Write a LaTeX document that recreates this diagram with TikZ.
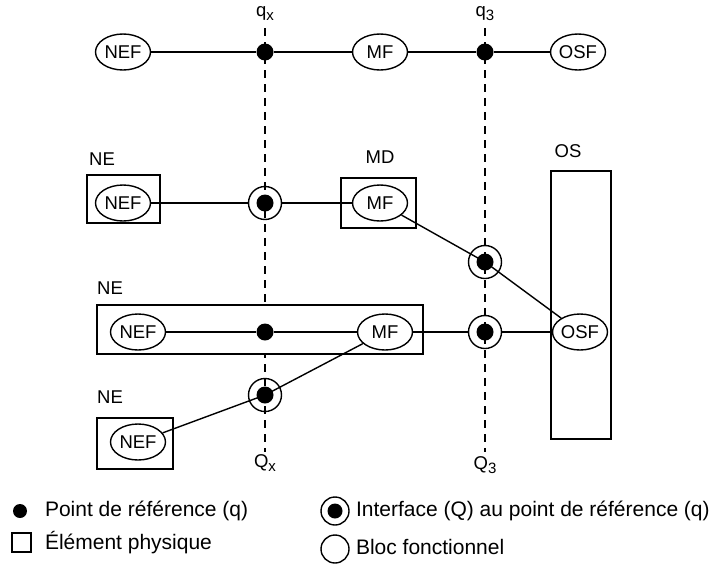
\documentclass[tikz,border=0pt]{standalone}
\usepackage{fontspec}
\setmainfont{Liberation Sans}
\usetikzlibrary{shapes.geometric}
\newcommand{\mysub}[1]{\raisebox{-4pt}{\fontsize{15}{15}\selectfont #1}}
\begin{document}
\begin{tikzpicture}[x=1pt,y=-1pt,line width=1.4pt,
  fblock/.style={draw,ellipse,fill=white,minimum width=55pt,minimum height=36pt,inner sep=0pt,font=\fontsize{18.5}{18.5}\selectfont},
  physbox/.style={draw,fill=white},
  refdot/.style={fill=black,circle,inner sep=0pt,minimum size=17pt},
  ifring/.style={draw,circle,inner sep=0pt,minimum size=33pt},
  lbl/.style={font=\fontsize{18.5}{18.5}\selectfont},
  leg/.style={font=\fontsize{21}{21}\selectfont,anchor=west},
  refline/.style={dash pattern=on 8pt off 6pt,line width=1.3pt}]
\useasboundingbox (0,0) rectangle (717,565);

% reference lines
\node[lbl] (qx) at (265,14) {q\mysub{x}};
\node[lbl] (q3) at (485,14) {q\mysub{3}};
\node[lbl] (Qx) at (265,463) {Q\mysub{x}};
\node[lbl] (Q3) at (485,465) {Q\mysub{3}};
\coordinate (qxtop) at (265,28);
\coordinate (qxbot) at (265,452);
\coordinate (q3top) at (485,28);
\coordinate (q3bot) at (485,452);
\draw[refline] (qxtop) -- (qxbot);
\draw[refline] (q3top) -- (q3bot);

% physical boxes
\draw[physbox] (87,175) rectangle (160,223);
\node[lbl] (ne1) at (102,159) {NE};
\draw[physbox] (341,178) rectangle (416,228);
\node[lbl] (md) at (380,157) {MD};
\draw[physbox] (97,305) rectangle (423,354);
\node[lbl] (ne2) at (110,288) {NE};
\draw[physbox] (97,418) rectangle (173,469);
\node[lbl] (ne3) at (110,397) {NE};
\draw[physbox] (551,171) rectangle (611,439);
\node[lbl] (os) at (568,151) {OS};

% top row
\node[fblock] (nefA) at (123,52) {NEF};
\node[fblock] (mfA) at (380,52) {MF};
\node[fblock] (osfA) at (578,52) {OSF};
\node[refdot] (dA1) at (265,52) {};
\node[refdot] (dA2) at (485,52) {};
\draw (nefA) -- (dA1) -- (mfA) -- (dA2) -- (osfA);

% second row
\node[fblock] (nefB) at (123,203) {NEF};
\node[fblock] (mfB) at (380,203) {MF};
\node[ifring] (iB) at (265,203) {};
\node[refdot] (dB) at (265,203) {};
\draw (nefB) -- (iB) -- (mfB);
\node[ifring] (iC) at (485,262) {};
\node[refdot] (dC) at (485,262) {};

% third row
\node[fblock] (osf) at (580,332) {OSF};
\node[fblock] (nefD) at (138,332) {NEF};
\node[fblock] (mfD) at (385,332) {MF};
\node[refdot] (dD) at (265,332) {};
\node[ifring] (iE) at (485,332) {};
\node[refdot] (dE) at (485,332) {};
\draw (nefD) -- (dD) -- (mfD) -- (iE) -- (osf);
\draw (mfB) -- (dC.center) -- (osf);

% fourth
\node[fblock] (nefF) at (138,442) {NEF};
\node[ifring] (iF) at (265,395) {};
\node[refdot] (dF) at (265,395) {};
\draw (nefF) -- (dF.center) -- (mfD);

% legend
\node[refdot,minimum size=14pt] (lg1) at (20,511) {};
\node[leg] (lt1) at (41,511) {Point de référence (q)};
\draw[physbox,line width=1.2pt] (12,533) rectangle (31,552);
\node[leg] (lt2) at (41,543) {Élément physique};
\node[draw,circle,inner sep=0pt,minimum size=28pt] (lg3) at (335,511) {};
\node[refdot,minimum size=15pt] (lg3d) at (335,511) {};
\node[leg] (lt3) at (352,511) {Interface (Q) au point de référence (q)};
\node[draw,circle,inner sep=0pt,minimum size=28pt] (lg4) at (335,549) {};
\node[leg] (lt4) at (352,547) {Bloc fonctionnel};
\end{tikzpicture}
\end{document}
